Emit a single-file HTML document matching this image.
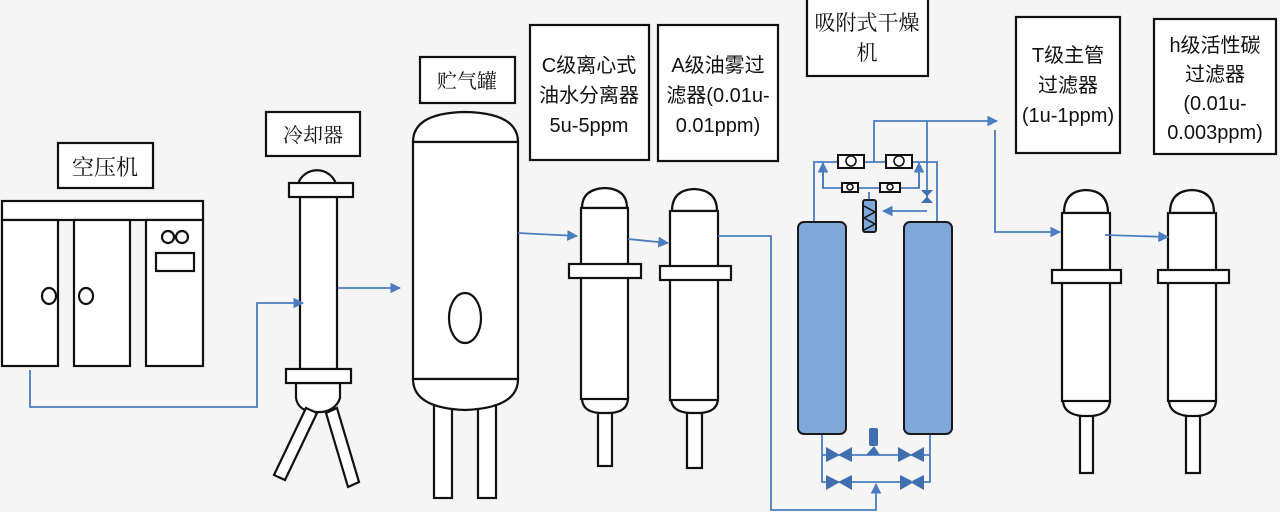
<!DOCTYPE html>
<html><head><meta charset="utf-8"><style>
html,body{margin:0;padding:0;background:#f4f5f4;}
svg{display:block}
.s{font-family:"Liberation Sans","Noto Sans CJK SC",sans-serif;}
.r{font-family:"Liberation Serif","Noto Serif CJK SC","Noto Sans CJK SC",serif;}
</style></head><body>
<svg width="1280" height="512" viewBox="0 0 1280 512" xmlns="http://www.w3.org/2000/svg">
<defs>
<marker id="a" viewBox="0 0 10 10" refX="9" refY="5" markerWidth="6" markerHeight="6" orient="auto"><path d="M0,0L10,5L0,10z" fill="#4a7cbf"/></marker>
</defs>
<rect width="1280" height="512" fill="#f4f5f4"/>
<g fill="#fff" stroke="#111" stroke-width="2.2">
<rect x="58" y="143" width="95" height="45"/>
<rect x="266" y="112" width="94" height="44"/>
<rect x="420" y="57" width="95" height="46"/>
<rect x="530" y="25" width="119" height="135"/>
<rect x="658" y="25" width="120" height="136"/>
<rect x="807" y="-2" width="121" height="78"/>
<rect x="1016" y="17" width="104" height="136"/>
<rect x="1154" y="19" width="122" height="135"/>
<rect x="2" y="201" width="201" height="19"/>
<rect x="2" y="220" width="56" height="146"/>
<rect x="74" y="220" width="56" height="146"/>
<rect x="146" y="220" width="57" height="146"/>
<ellipse cx="49" cy="296" rx="7" ry="8"/>
<ellipse cx="86" cy="296" rx="7" ry="8"/>
<circle cx="168" cy="237" r="6"/><circle cx="182" cy="237" r="6"/>
<rect x="156" y="253" width="38" height="18"/>
<path d="M298,184 A20,20 0 0 1 336,184 Z"/>
<rect x="300" y="197" width="37" height="172"/>
<rect x="289" y="183" width="64" height="14"/>
<path d="M296,383 L340,383 L340,398 Q336,410 322,412 L312,412 Q298,410 296,398 Z"/>
<rect x="286" y="369" width="65" height="14"/>
<path d="M306,408 L317,413 L285,480 L274,475 Z"/>
<path d="M326,413 L337,408 L359,482 L348,487 Z"/>
<rect x="434" y="400" width="18" height="98"/>
<rect x="478" y="400" width="18" height="98"/>
<path d="M413,142 Q413,113 465,112 Q518,113 518,142 Z"/>
<rect x="413" y="142" width="105" height="237"/>
<path d="M413,379 L518,379 Q518,408 465,410 Q413,408 413,379 Z"/>
<ellipse cx="465" cy="318" rx="16" ry="25"/>
</g>
<g fill="#fff" stroke="#111" stroke-width="2.2">
<rect x="598" y="410" width="14" height="56"/>
<path d="M582,398 L628,398 Q628,412 610,413 L600,413 Q582,412 582,398 Z"/>
<path d="M582,208 Q582,189 605,188 Q627,189 627,208 Z"/>
<rect x="581" y="208" width="47" height="191"/>
<rect x="569" y="264" width="72" height="14"/>
<rect x="687" y="410" width="15" height="58"/>
<path d="M671,398 L718,398 Q718,412 700,413 L690,413 Q671,412 671,398 Z"/>
<path d="M672,211 Q672,190 694,189 Q717,190 717,211 Z"/>
<rect x="670" y="211" width="48" height="189"/>
<rect x="660" y="266" width="71" height="14"/>
<rect x="1080" y="415" width="13" height="58"/>
<path d="M1063,400 L1110,400 Q1110,414 1092,416 L1082,416 Q1063,414 1063,400 Z"/>
<path d="M1064,213 Q1064,191 1086,190 Q1108,191 1108,213 Z"/>
<rect x="1062" y="213" width="48" height="188"/>
<rect x="1052" y="270" width="69" height="13"/>
<rect x="1186" y="415" width="14" height="58"/>
<path d="M1169,400 L1216,400 Q1216,414 1198,416 L1188,416 Q1169,414 1169,400 Z"/>
<path d="M1170,213 Q1170,191 1192,190 Q1214,191 1214,213 Z"/>
<rect x="1168" y="213" width="48" height="188"/>
<rect x="1158" y="270" width="71" height="13"/>
</g>
<g fill="none" stroke="#4a7cbf" stroke-width="1.8">
<path d="M30,370 V407 H257 V303 H303" marker-end="url(#a)"/>
<path d="M338,288 H400" marker-end="url(#a)"/>
<path d="M518,233 L577,236" marker-end="url(#a)"/>
<path d="M628,239 L668,243" marker-end="url(#a)"/>
<path d="M718,236 H771 V510 H876 V484" marker-end="url(#a)"/>
<path d="M822,434 V482 H930 V434"/>
<path d="M822,455 H930"/>
<path d="M814,222 V162 H937 V222"/>
<path d="M874,162 V121 H997" marker-end="url(#a)"/>
<path d="M927,121 V200"/>
<path d="M823,170 V188 H919 V170"/>
<path d="M823,188 V163" marker-end="url(#a)"/>
<path d="M919,188 V163" marker-end="url(#a)"/>
<path d="M927,211 H883" marker-end="url(#a)"/>
<path d="M869,192 V200"/>
<path d="M995,130 V232 H1060" marker-end="url(#a)"/>
<path d="M1105,235 L1168,237" marker-end="url(#a)"/>
</g>
<g stroke="#1a1a1a" stroke-width="2" fill="#7fa7d8">
<rect x="798" y="222" width="48" height="212" rx="6"/>
<rect x="904" y="222" width="48" height="212" rx="6"/>
<rect x="863" y="200" width="13" height="32" rx="2"/>
</g>
<path d="M864,206 L875,212 L864,218 L875,224 L864,230" stroke="#111" fill="none" stroke-width="1.5"/>
<g fill="#fff" stroke="#111" stroke-width="2">
<rect x="838" y="155" width="26" height="13"/><rect x="886" y="155" width="26" height="13"/>
<rect x="842" y="183" width="16" height="9"/><rect x="880" y="183" width="20" height="9"/>
</g>
<g fill="none" stroke="#111" stroke-width="1.6">
<circle cx="851" cy="161" r="5"/><circle cx="899" cy="161" r="5"/>
<circle cx="850" cy="187" r="3"/><circle cx="890" cy="187" r="3"/>
</g>
<g fill="#3f6fae">
<path d="M921,190 L933,190 L921,203 L933,203 Z"/>
<path d="M826,447 L840,455 L826,462 Z M852,447 L838,455 L852,462 Z"/>
<path d="M898,447 L912,455 L898,462 Z M924,447 L910,455 L924,462 Z"/>
<path d="M826,475 L840,482 L826,490 Z M852,475 L838,482 L852,490 Z"/>
<path d="M900,475 L914,482 L900,490 Z M924,475 L910,482 L924,490 Z"/>
<rect x="869" y="428" width="9" height="18" rx="2"/>
<path d="M866,455 L874,446 L880,455 Z"/>
</g>
<g fill="#111" text-anchor="middle">
<text x="105" y="175" class="r" font-size="22">空压机</text>
<text x="313" y="142" class="r" font-size="20">冷却器</text>
<text x="467" y="88" class="r" font-size="20">贮气罐</text>
<g class="s" font-size="20">
<text x="589" y="72">C级离心式</text>
<text x="589" y="102">油水分离器</text>
<text x="589" y="132">5u-5ppm</text>
<text x="718" y="72">A级油雾过</text>
<text x="718" y="102">滤器(0.01u-</text>
<text x="718" y="132">0.01ppm)</text>
<text x="1068" y="62">T级主管</text>
<text x="1068" y="92">过滤器</text>
<text x="1068" y="122">(1u-1ppm)</text>
<text x="1215" y="52">h级活性碳</text>
<text x="1215" y="81">过滤器</text>
<text x="1215" y="110">(0.01u-</text>
<text x="1215" y="139">0.003ppm)</text>
</g>
<text x="867" y="30" class="r" font-size="21">吸附式干燥</text>
<text x="867" y="60" class="r" font-size="21">机</text>
</g>
</svg>
</body></html>
